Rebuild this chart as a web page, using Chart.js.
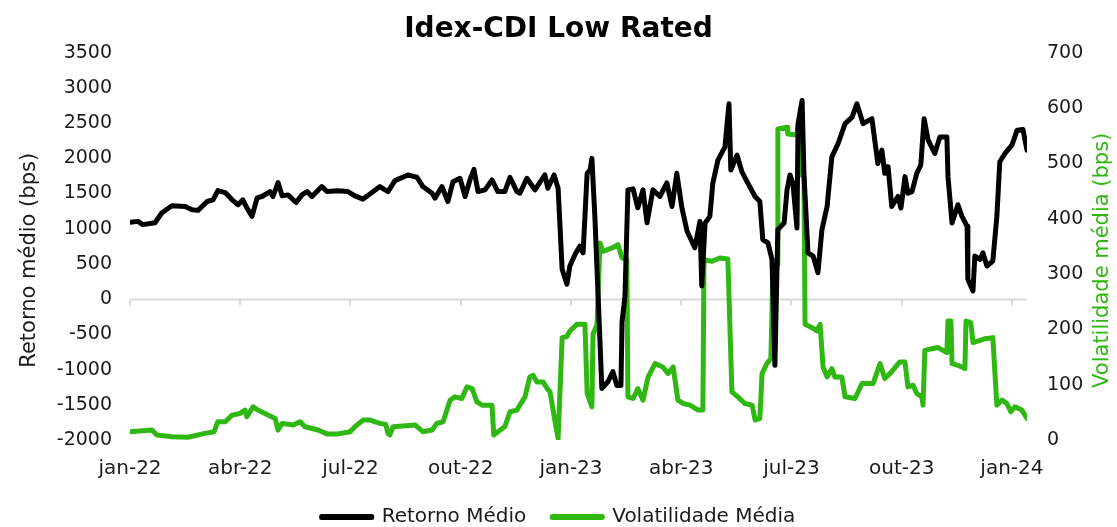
<!DOCTYPE html>
<html>
<head>
<meta charset="utf-8">
<script src="https://cdn.jsdelivr.net/npm/chart.js@4.4.1/dist/chart.umd.min.js"></script>
<style>
  html, body { margin: 0; padding: 0; background: #fff; }
  #grafico { display: block; }
</style>
</head>
<body>
<canvas id="grafico" width="1117" height="527"></canvas>
<script>
// Eixo X em meses contados a partir de jan-22 (0 = jan-22, 24 = jan-24)
const rotulosX = ['jan-22', 'abr-22', 'jul-22', 'out-22', 'jan-23', 'abr-23', 'jul-23', 'out-23', 'jan-24'];

// Retorno médio (bps) - eixo esquerdo
const mesesRetorno = [0, 0.22, 0.35, 0.68, 0.87, 1.14, 1.50, 1.69, 1.85, 2.10, 2.26, 2.39, 2.59, 2.78, 2.94, 3.07, 3.18, 3.32, 3.46, 3.59, 3.81, 3.89, 4.03, 4.14, 4.30, 4.52, 4.68, 4.82, 4.95, 5.22, 5.36, 5.66, 5.93, 6.12, 6.34, 6.53, 6.80, 7.02, 7.21, 7.56, 7.81, 7.97, 8.22, 8.30, 8.49, 8.65, 8.79, 8.98, 9.12, 9.25, 9.36, 9.47, 9.66, 9.85, 10.01, 10.20, 10.34, 10.53, 10.61, 10.80, 11.02, 11.29, 11.37, 11.54, 11.65, 11.76, 11.89, 11.97, 12.11, 12.24, 12.33, 12.44, 12.52, 12.57, 12.65, 12.79, 12.84, 13.01, 13.14, 13.25, 13.36, 13.39, 13.47, 13.55, 13.69, 13.82, 13.96, 14.07, 14.23, 14.42, 14.61, 14.75, 14.88, 15.02, 15.16, 15.37, 15.51, 15.56, 15.65, 15.78, 15.86, 16.00, 16.19, 16.30, 16.35, 16.52, 16.65, 16.79, 17.01, 17.14, 17.22, 17.36, 17.47, 17.55, 17.63, 17.80, 17.88, 17.96, 18.04, 18.15, 18.18, 18.29, 18.34, 18.45, 18.59, 18.72, 18.83, 18.97, 19.10, 19.27, 19.46, 19.65, 19.78, 19.95, 20.19, 20.35, 20.46, 20.54, 20.63, 20.73, 20.90, 20.98, 21.09, 21.17, 21.28, 21.41, 21.52, 21.61, 21.72, 21.90, 22.04, 22.23, 22.26, 22.37, 22.53, 22.64, 22.78, 22.80, 22.94, 22.99, 23.13, 23.21, 23.32, 23.48, 23.59, 23.67, 23.81, 24.00, 24.14, 24.30, 24.41];
const retornoMedio = [1090, 1104, 1058, 1085, 1227, 1325, 1316, 1269, 1260, 1386, 1410, 1541, 1513, 1410, 1340, 1410, 1297, 1175, 1438, 1457, 1527, 1457, 1654, 1466, 1480, 1372, 1480, 1527, 1457, 1598, 1527, 1537, 1527, 1466, 1420, 1494, 1598, 1527, 1682, 1763, 1730, 1598, 1504, 1434, 1598, 1386, 1668, 1716, 1457, 1692, 1842, 1527, 1551, 1692, 1527, 1527, 1730, 1527, 1504, 1716, 1551, 1763, 1575, 1763, 1575, 423, 212, 470, 635, 752, 658, 1786, 1833, 1998, 1175, -606, -1269, -1170, -1029, -1227, -1227, -324, 47, 1551, 1565, 1297, 1551, 1085, 1551, 1457, 1650, 1316, 1786, 1293, 963, 729, 1104, 188, 1081, 1175, 1645, 1974, 2161, 2773, 1833, 2045, 1809, 1668, 1457, 1386, 846, 799, 564, -940, 987, 1081, 1551, 1763, 1645, 1011, 2491, 2820, 1786, 658, 611, 376, 987, 1316, 2020, 2209, 2491, 2584, 2773, 2491, 2562, 1927, 2115, 1786, 1880, 1316, 1457, 1293, 1739, 1504, 1527, 1786, 1904, 2562, 2256, 2068, 2303, 2303, 1739, 1081, 1340, 1175, 1034, 282, 117, 611, 564, 658, 470, 540, 1175, 1950, 2068, 2186, 2397, 2407, 2115];

// Volatilidade média (bps) - eixo direito
const mesesVolatilidade = [0, 0.60, 0.73, 1.14, 1.58, 2.04, 2.29, 2.39, 2.59, 2.78, 2.99, 3.13, 3.18, 3.35, 3.48, 3.67, 3.95, 4.03, 4.14, 4.44, 4.63, 4.76, 5.12, 5.36, 5.66, 5.99, 6.12, 6.34, 6.53, 6.80, 6.96, 7.02, 7.07, 7.16, 7.76, 7.97, 8.22, 8.35, 8.52, 8.71, 8.84, 9.03, 9.17, 9.31, 9.44, 9.58, 9.85, 9.90, 10.01, 10.20, 10.34, 10.53, 10.61, 10.75, 10.88, 10.97, 11.07, 11.24, 11.35, 11.43, 11.56, 11.65, 11.76, 11.89, 11.97, 12.16, 12.38, 12.44, 12.57, 12.60, 12.71, 12.79, 12.87, 13.12, 13.28, 13.39, 13.52, 13.55, 13.69, 13.82, 13.96, 14.10, 14.29, 14.50, 14.64, 14.78, 14.91, 15.05, 15.24, 15.46, 15.59, 15.62, 15.84, 16.05, 16.27, 16.38, 16.54, 16.73, 16.93, 17.01, 17.14, 17.20, 17.33, 17.44, 17.50, 17.61, 17.63, 17.88, 17.90, 18.15, 18.18, 18.26, 18.34, 18.37, 18.56, 18.69, 18.78, 18.86, 18.97, 19.10, 19.18, 19.37, 19.46, 19.73, 19.92, 20.22, 20.41, 20.54, 20.68, 20.95, 21.09, 21.17, 21.31, 21.41, 21.55, 21.58, 21.63, 21.82, 21.99, 22.23, 22.26, 22.34, 22.37, 22.53, 22.72, 22.75, 22.88, 22.94, 23.13, 23.27, 23.48, 23.59, 23.73, 23.86, 23.97, 24.08, 24.27, 24.41];
const volatilidadeMedia = [15, 18, 9, 6, 5, 12, 15, 33, 33, 45, 48, 54, 42, 60, 54, 48, 39, 18, 30, 27, 33, 24, 18, 11, 11, 15, 24, 36, 36, 30, 28, 12, 9, 24, 27, 15, 18, 30, 33, 72, 78, 75, 96, 93, 69, 63, 63, 9, 15, 24, 51, 54, 63, 78, 114, 117, 105, 105, 93, 87, 36, 3, 185, 187, 197, 209, 209, 84, 60, 191, 209, 356, 341, 347, 353, 329, 326, 78, 75, 93, 72, 114, 138, 132, 120, 132, 72, 66, 63, 54, 54, 326, 323, 329, 327, 87, 78, 66, 63, 36, 39, 120, 138, 147, 311, 317, 562, 565, 553, 551, 568, 479, 476, 209, 203, 197, 209, 132, 114, 129, 114, 114, 78, 75, 102, 102, 138, 111, 120, 141, 141, 96, 99, 84, 78, 63, 162, 165, 167, 158, 215, 215, 138, 135, 129, 215, 212, 176, 180, 183, 185, 63, 72, 66, 51, 60, 54, 39];

const PRETO = '#000000';
const VERDE = '#30b812';
const TEXTO = '#1a1a1a';
const FONTE = "'DejaVu Sans', sans-serif";

// Junta meses e valores em pontos {x, y}
function toPoints(xs, ys) {
  if (xs.length !== ys.length) {
    throw new Error('Tamanhos diferentes: ' + xs.length + ' x ' + ys.length);
  }
  return xs.map((m, i) => ({ x: m, y: ys[i] }));
}

// Linha do zero (eixo X do Excel) com marcas trimestrais
const zeroLinePlugin = {
  id: 'zeroLine',
  beforeDatasetsDraw(chart) {
    const { ctx, chartArea, scales } = chart;
    const y0 = Math.round(scales.y.getPixelForValue(0)) + 0.5;
    ctx.save();
    ctx.strokeStyle = '#d9d9d9';
    ctx.lineWidth = 2;
    ctx.beginPath();
    ctx.moveTo(chartArea.left, y0);
    ctx.lineTo(chartArea.right, y0);
    scales.x.ticks.forEach(t => {
      const px = Math.round(scales.x.getPixelForValue(t.value));
      ctx.moveTo(px, y0);
      ctx.lineTo(px, y0 + 6);
    });
    ctx.stroke();
    ctx.restore();
  }
};

// Títulos dos eixos, os dois lidos de baixo para cima como no original
const axisTitlesPlugin = {
  id: 'axisTitles',
  afterDraw(chart) {
    const { ctx, chartArea } = chart;
    const midY = (chartArea.top + chartArea.bottom) / 2 + 14;
    const drawTitle = (text, x, color) => {
      ctx.save();
      ctx.translate(x, midY);
      ctx.rotate(-Math.PI / 2);
      ctx.fillStyle = color;
      ctx.font = '21px ' + FONTE;
      ctx.textAlign = 'center';
      ctx.textBaseline = 'middle';
      ctx.fillText(text, 0, 0);
      ctx.restore();
    };
    drawTitle('Retorno médio (bps)', 30, TEXTO);
    drawTitle('Volatilidade média (bps)', 1103, VERDE);
  }
};

const ctx = document.getElementById('grafico').getContext('2d');

new Chart(ctx, {
  type: 'line',
  data: {
    datasets: [
      {
        label: 'Retorno Médio',
        data: toPoints(mesesRetorno, retornoMedio),
        yAxisID: 'y',
        borderColor: PRETO,
        backgroundColor: PRETO,
        borderWidth: 5,
        pointRadius: 0,
        tension: 0,
        borderJoinStyle: 'round',
        borderCapStyle: 'round',
        order: 1,
      },
      {
        label: 'Volatilidade Média',
        data: toPoints(mesesVolatilidade, volatilidadeMedia),
        yAxisID: 'y2',
        borderColor: VERDE,
        backgroundColor: VERDE,
        borderWidth: 5,
        pointRadius: 0,
        tension: 0,
        borderJoinStyle: 'round',
        borderCapStyle: 'round',
        order: 2,
      },
    ],
  },
  options: {
    responsive: false,
    animation: false,
    // fundo negativo para a legenda descer até a borda, como no Excel
    layout: { padding: { left: 0, right: 0, top: 0, bottom: -10 } },
    plugins: {
      title: {
        display: true,
        text: 'Idex-CDI Low Rated',
        color: '#000',
        font: { family: FONTE, size: 28, weight: 'bold' },
        padding: { top: 13, bottom: 6 },
      },
      legend: {
        position: 'bottom',
        labels: {
          color: TEXTO,
          font: { family: FONTE, size: 20 },
          boxWidth: 50,
          boxHeight: 1,
          padding: 26,
        },
      },
      tooltip: { enabled: false },
    },
    scales: {
      x: {
        type: 'linear',
        min: 0,
        max: 24.41,
        grid: { display: false, drawTicks: false },
        border: { display: false },
        ticks: {
          stepSize: 3,
          includeBounds: false,
          autoSkip: false,
          maxRotation: 0,
          padding: 17,
          color: TEXTO,
          font: { family: FONTE, size: 20 },
          callback: v => rotulosX[v / 3],
        },
        afterFit(scale) { scale.height = 41; },
      },
      y: {
        position: 'left',
        min: -2000,
        max: 3500,
        grid: { display: false, drawTicks: false },
        border: { display: false },
        ticks: {
          stepSize: 500,
          padding: 18,
          color: TEXTO,
          font: { family: FONTE, size: 19 },
          callback: v => String(v),
        },
        afterFit(scale) { scale.width = 130; },
      },
      y2: {
        position: 'right',
        min: 0,
        max: 700,
        grid: { display: false, drawTicks: false },
        border: { display: false },
        ticks: {
          stepSize: 100,
          padding: 20,
          color: TEXTO,
          font: { family: FONTE, size: 19 },
          callback: v => String(v),
        },
        afterFit(scale) { scale.width = 90; },
      },
    },
  },
  plugins: [zeroLinePlugin, axisTitlesPlugin],
});
</script>
</body>
</html>
